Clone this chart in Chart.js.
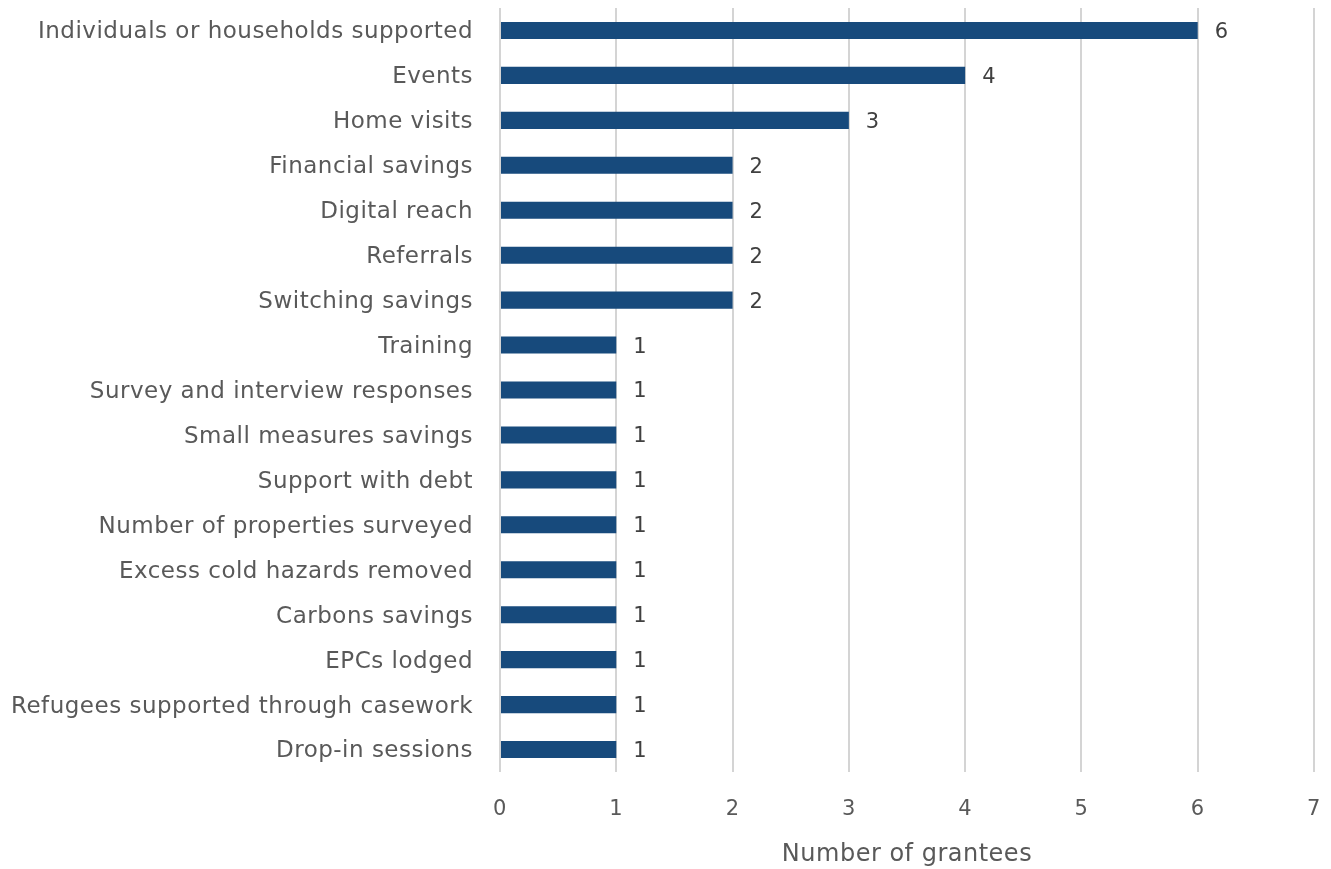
<!DOCTYPE html>
<html>
<head>
<meta charset="utf-8">
<script src="https://cdn.jsdelivr.net/npm/chart.js@4/dist/chart.umd.min.js"></script>
<style>
  html, body { margin: 0; padding: 0; background: #fff; }
  #wrap { width: 1331px; height: 869px; }
</style>
</head>
<body>
<div id="wrap"><canvas id="chart" width="1331" height="869"></canvas></div>
<script>
const categories = [
    'Individuals or households supported',
    'Events',
    'Home visits',
    'Financial savings',
    'Digital reach',
    'Referrals',
    'Switching savings',
    'Training',
    'Survey and interview responses',
    'Small measures savings',
    'Support with debt',
    'Number of properties surveyed',
    'Excess cold hazards removed',
    'Carbons savings',
    'EPCs lodged',
    'Refugees supported through casework',
    'Drop-in sessions'
];
const grantees = [6, 4, 3, 2, 2, 2, 2, 1, 1, 1, 1, 1, 1, 1, 1, 1, 1];
const xTicks = [0, 1, 2, 3, 4, 5, 6, 7];

const fontFamily = '"DejaVu Sans", "Open Sans", sans-serif';
const textColor = '#595959';

// slightly looser text so the labels run as wide as the original typeface
const looseText = {
    id: 'looseText',
    beforeUpdate(chart) { chart.ctx.letterSpacing = '0.5px'; },
    beforeDraw(chart) { chart.ctx.letterSpacing = '0.5px'; }
};

// value printed just past the end of each bar
const barValues = {
    id: 'barValues',
    afterDatasetsDraw(chart) {
        const ctx = chart.ctx;
        const meta = chart.getDatasetMeta(0);
        ctx.save();
        ctx.font = '21px ' + fontFamily;
        ctx.fillStyle = '#404040';
        ctx.textAlign = 'left';
        ctx.textBaseline = 'middle';
        meta.data.forEach((bar, i) => {
            ctx.fillText(String(grantees[i]), bar.x + 17, bar.y + 2);
        });
        ctx.restore();
    }
};

new Chart(document.getElementById('chart'), {
    type: 'bar',
    data: {
        labels: categories,
        datasets: [{
            data: grantees,
            backgroundColor: '#174a7c',
            barPercentage: 0.38,
            categoryPercentage: 1
        }]
    },
    options: {
        indexAxis: 'y',
        responsive: false,
        animation: false,
        layout: { padding: { top: 8, right: 17, left: 0, bottom: 0 } },
        plugins: {
            legend: { display: false },
            tooltip: { enabled: false }
        },
        scales: {
            x: {
                min: 0,
                max: 7,
                afterBuildTicks(scale) {
                    scale.ticks = xTicks.map(v => ({ value: v }));
                },
                afterFit(scale) {
                    scale.height = 97;
                    scale.paddingLeft = 0;
                    scale.paddingRight = 0;
                },
                grid: { color: '#d4d4d4', lineWidth: 2, drawTicks: false },
                border: { display: false },
                ticks: {
                    padding: 25,
                    color: textColor,
                    font: { family: fontFamily, size: 21 }
                },
                title: {
                    display: true,
                    text: 'Number of grantees',
                    color: textColor,
                    font: { family: fontFamily, size: 24 },
                    padding: { top: 0, bottom: 0 }
                }
            },
            y: {
                afterFit(scale) {
                    scale.width = 500;
                    scale.paddingTop = 0;
                    scale.paddingBottom = 0;
                },
                grid: { display: false, drawTicks: false },
                border: { display: false },
                ticks: {
                    padding: 27,
                    labelOffset: 2,
                    autoSkip: false,
                    color: textColor,
                    font: { family: fontFamily, size: 23 }
                }
            }
        }
    },
    plugins: [looseText, barValues]
});
</script>
</body>
</html>
